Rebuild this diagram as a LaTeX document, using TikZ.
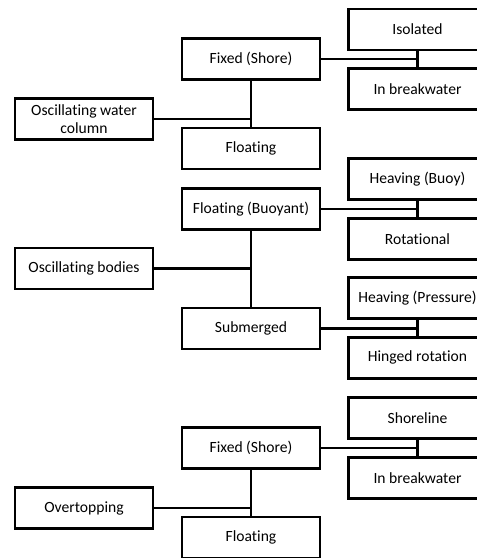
\documentclass[tikz,border=0pt]{standalone}
\usepackage{fontspec}
\setmainfont[Ligatures={NoCommon}]{Carlito}
\usetikzlibrary{positioning,calc}
\tikzset{
  wbox/.style={draw=black,line width=2.5pt,fill=white,minimum width=138pt,minimum height=41pt,
    inner sep=2pt,align=center,font=\fontsize{15.6}{18.6}\selectfont},
  wire/.style={draw=black,line width=2.5pt}
}

\begin{document}
\begin{tikzpicture}[x=1pt,y=-1pt]
\useasboundingbox (0,0) rectangle (477,558);
\clip (0,0) rectangle (477,558);
% oscillating water column
\node[wbox] (owc) at (84,119.2) {Oscillating water\\column};
\node[wbox] (fixA) at (251,59.2) {Fixed (Shore)};
\node[wbox] (fltA) at (251,148.5) {Floating};
\node[wbox] (iso) at (417.5,29.5) {Isolated};
\node[wbox] (brkA) at (417.5,88.8) {In breakwater};
\draw[wire] (fixA.south) -- (fltA.north);
\draw[wire] (owc.east) -- (owc.east -| fixA.south);
\draw[wire] (fixA.east) -- (fixA.east -| iso.south);
\draw[wire] (iso.south) -- (brkA.north);
% oscillating bodies
\node[wbox] (osb) at (84,268.3) {Oscillating bodies};
\node[wbox] (buoyant) at (251,209) {Floating (Buoyant)};
\node[wbox] (subm) at (251,328.3) {Submerged};
\node[wbox] (hvbuoy) at (417.5,178.8) {Heaving (Buoy)};
\node[wbox] (rot) at (417.5,238.8) {Rotational};
\node[wbox] (hvpres) at (417.5,298) {Heaving (Pressure)};
\node[wbox] (hinge) at (417.5,357.8) {Hinged rotation};
\draw[wire] (buoyant.south) -- (subm.north);
\draw[wire] (osb.east) -- (osb.east -| buoyant.south);
\draw[wire] (buoyant.east) -- (buoyant.east -| hvbuoy.south);
\draw[wire] (hvbuoy.south) -- (rot.north);
\draw[wire] (subm.east) -- (subm.east -| hvpres.south);
\draw[wire] (hvpres.south) -- (hinge.north);
% overtopping
\node[wbox] (ovt) at (84,508) {Overtopping};
\node[wbox] (fixC) at (251,448) {Fixed (Shore)};
\node[wbox] (fltC) at (251,537.5) {Floating};
\node[wbox] (shore) at (417.5,418) {Shoreline};
\node[wbox] (brkC) at (417.5,478) {In breakwater};
\draw[wire] (fixC.south) -- (fltC.north);
\draw[wire] (ovt.east) -- (ovt.east -| fixC.south);
\draw[wire] (fixC.east) -- (fixC.east -| shore.south);
\draw[wire] (shore.south) -- (brkC.north);
\end{tikzpicture}
\end{document}
